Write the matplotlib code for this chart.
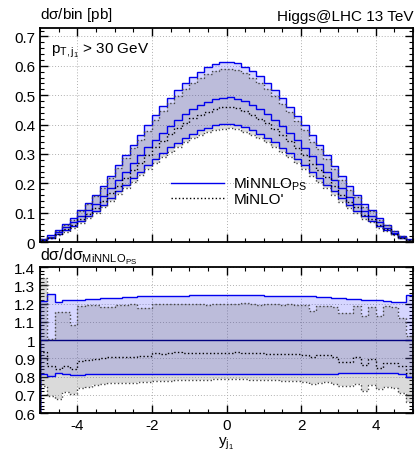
import numpy as np
import matplotlib.pyplot as plt
from matplotlib.ticker import MultipleLocator
from matplotlib.lines import Line2D

plt.rcParams['font.family'] = ['Liberation Sans', 'DejaVu Sans']
plt.rcParams['mathtext.fontset'] = 'custom'
plt.rcParams['mathtext.rm'] = 'Liberation Sans'
plt.rcParams['mathtext.it'] = 'Liberation Sans'
plt.rcParams['axes.unicode_minus'] = False

# bin edges in y_j1
edges = np.linspace(-5, 5, 51)

# MiNNLO_PS central value per bin [pb]
minnlo = [0.008, 0.018, 0.033, 0.050, 0.068, 0.090, 0.108, 0.130, 0.156, 0.184,
          0.212, 0.240, 0.268, 0.295, 0.322, 0.348, 0.372, 0.395, 0.415, 0.435,
          0.452, 0.466, 0.478, 0.487, 0.492,
          0.493, 0.488, 0.479, 0.467, 0.453, 0.436, 0.416, 0.394, 0.371, 0.347,
          0.321, 0.294, 0.267, 0.239, 0.211, 0.183, 0.155, 0.130, 0.107, 0.089,
          0.067, 0.049, 0.032, 0.018, 0.008]

# MiNNLO_PS scale band, ratio to central
minnlo_up = [1.212, 1.252, 1.208, 1.218, 1.219, 1.221, 1.224, 1.226, 1.229, 1.231,
             1.233, 1.235, 1.237, 1.239, 1.240, 1.241, 1.242, 1.243, 1.244, 1.244,
             1.245, 1.245, 1.246, 1.246, 1.246,
             1.246, 1.246, 1.246, 1.245, 1.245, 1.244, 1.243, 1.243, 1.242, 1.241,
             1.240, 1.239, 1.238, 1.236, 1.233, 1.229, 1.226, 1.223, 1.221, 1.219,
             1.218, 1.213, 1.210, 1.209, 1.247]
minnlo_dn = [0.814, 0.801, 0.817, 0.812, 0.811, 0.811, 0.812, 0.812, 0.813, 0.813,
             0.813, 0.814, 0.814, 0.814, 0.814, 0.815, 0.815, 0.815, 0.815, 0.815,
             0.815, 0.815, 0.815, 0.815, 0.815,
             0.815, 0.815, 0.815, 0.815, 0.815, 0.815, 0.815, 0.815, 0.815, 0.815,
             0.815, 0.815, 0.815, 0.816, 0.816, 0.817, 0.817, 0.817, 0.818, 0.818,
             0.818, 0.818, 0.817, 0.816, 0.800]

# MiNLO' central and band, ratio to MiNNLO_PS central
minlo_c = [0.934, 0.860, 0.840, 0.860, 0.840, 0.887, 0.890, 0.895, 0.900, 0.905,
           0.905, 0.910, 0.910, 0.915, 0.915, 0.928, 0.925, 0.928, 0.932, 0.930,
           0.931, 0.930, 0.929, 0.930, 0.931,
           0.930, 0.933, 0.931, 0.928, 0.927, 0.926, 0.924, 0.925, 0.926, 0.922,
           0.918, 0.908, 0.918, 0.920, 0.905, 0.882, 0.880, 0.905, 0.862, 0.895,
           0.845, 0.877, 0.875, 0.860, 0.820]
minlo_up = [1.340, 1.005, 1.155, 1.155, 1.082, 1.188, 1.192, 1.195, 1.183, 1.183,
            1.193, 1.195, 1.196, 1.178, 1.176, 1.198, 1.196, 1.200, 1.199, 1.197,
            1.200, 1.196, 1.195, 1.198, 1.197,
            1.196, 1.199, 1.202, 1.197, 1.195, 1.198, 1.196, 1.194, 1.196, 1.192,
            1.190, 1.162, 1.185, 1.188, 1.180, 1.150, 1.148, 1.185, 1.130, 1.180,
            1.132, 1.185, 1.180, 1.122, 1.020]
minlo_dn = [0.750, 0.695, 0.677, 0.713, 0.705, 0.737, 0.745, 0.752, 0.758, 0.762,
            0.764, 0.766, 0.766, 0.770, 0.772, 0.775, 0.776, 0.778, 0.779, 0.780,
            0.781, 0.782, 0.783, 0.784, 0.785,
            0.785, 0.786, 0.784, 0.783, 0.782, 0.781, 0.780, 0.778, 0.777, 0.775,
            0.772, 0.760, 0.766, 0.768, 0.760, 0.750, 0.748, 0.760, 0.722, 0.752,
            0.730, 0.742, 0.738, 0.708, 0.660]

minnlo = np.array(minnlo)
r_up, r_dn = np.array(minnlo_up), np.array(minnlo_dn)
m_c, m_up, m_dn = np.array(minlo_c), np.array(minlo_up), np.array(minlo_dn)

blue = '#0000ee'
bfill = (0.0, 0.0, 1.0, 0.16)
gfill = (0.45, 0.45, 0.45, 0.26)
fs = 11

fig = plt.figure(figsize=(4.16, 4.56), dpi=100)
ax1 = fig.add_axes([0.0962, 0.467, 0.8966, 0.469])
ax2 = fig.add_axes([0.0962, 0.092, 0.8966, 0.320])


def style(ax):
    ax.tick_params(which='both', direction='in', top=True, right=True, labelsize=fs)
    ax.tick_params(which='major', length=6, width=1)
    ax.tick_params(which='minor', length=3, width=0.8)
    ax.xaxis.set_major_locator(MultipleLocator(2))
    ax.xaxis.set_minor_locator(MultipleLocator(0.5))
    ax.grid(True, which='major', ls=(0, (1, 2)), color='#b0b0b0', lw=0.7)
    ax.set_axisbelow(True)
    for s in ax.spines.values():
        s.set_linewidth(1.3)
    ax.set_xlim(-5, 5)


# top panel
ax1.stairs(minnlo * r_up, edges, baseline=minnlo * r_dn, fill=True, color=bfill, lw=0)
ax1.stairs(minnlo * m_up, edges, baseline=minnlo * m_dn, fill=True, color=gfill, lw=0)
ax1.stairs(minnlo * r_up, edges, color=blue, lw=1.0)
ax1.stairs(minnlo * r_dn, edges, color=blue, lw=1.0)
ax1.stairs(minnlo, edges, color=blue, lw=1.0)
ax1.stairs(minnlo * m_up, edges, color='#444444', lw=1.0, ls=':')
ax1.stairs(minnlo * m_dn, edges, color='#444444', lw=1.0, ls=':')
ax1.stairs(minnlo * m_c, edges, color='black', lw=1.0, ls=':')
style(ax1)
ax1.set_ylim(0, 0.728)
ax1.yaxis.set_minor_locator(MultipleLocator(0.02))
ax1.set_yticks([0, 0.1, 0.2, 0.3, 0.4, 0.5, 0.6, 0.7],
               ['0', '0.1', '0.2', '0.3', '0.4', '0.5', '0.6', '0.7'])
ax1.tick_params(axis='x', labelbottom=False)
ax1.text(0.0, 1.025, r'd$\sigma$/bin [pb]', transform=ax1.transAxes, fontsize=fs,
         ha='left', va='bottom')
ax1.text(1.0, 1.025, 'Higgs@LHC 13 TeV', transform=ax1.transAxes, fontsize=fs,
         ha='right', va='bottom')
ax1.text(0.03, 0.94, r'p$_{\mathregular{T,j_1}}$ > 30 GeV', transform=ax1.transAxes,
         fontsize=fs, ha='left', va='top')
handles = [Line2D([], [], color=blue, lw=1.0),
           Line2D([], [], color='black', lw=1.0, ls=':')]
ax1.legend(handles, [r'MiNNLO$_{\mathregular{PS}}$', "MiNLO'"], loc='center left',
           bbox_to_anchor=(0.33, 0.24), frameon=False, fontsize=fs,
           handlelength=3.5, handletextpad=0.6, labelspacing=0.0, borderpad=0)

# ratio panel
ax2.stairs(r_up, edges, baseline=r_dn, fill=True, color=bfill, lw=0)
ax2.stairs(m_up, edges, baseline=m_dn, fill=True, color=gfill, lw=0)
ax2.stairs(r_up, edges, color=blue, lw=1.0)
ax2.stairs(r_dn, edges, color=blue, lw=1.0)
ax2.stairs(minnlo / minnlo, edges, color='#000080', lw=1.0)
ax2.stairs(m_up, edges, color='#444444', lw=1.0, ls=':')
ax2.stairs(m_dn, edges, color='#444444', lw=1.0, ls=':')
ax2.stairs(m_c, edges, color='black', lw=1.0, ls=':')
style(ax2)
ax2.set_ylim(0.6, 1.4)
ax2.yaxis.set_minor_locator(MultipleLocator(0.02))
ax2.set_yticks([0.6, 0.7, 0.8, 0.9, 1.0, 1.1, 1.2, 1.3, 1.4],
               ['0.6', '0.7', '0.8', '0.9', '1', '1.1', '1.2', '1.3', '1.4'])
ax2.text(0.0, 1.01, r'd$\sigma$/d$\sigma_{\mathregular{MiNNLO_{PS}}}$',
         transform=ax2.transAxes, fontsize=fs + 0.5, ha='left', va='bottom')
ax2.set_xlabel(r'y$_{\mathregular{j_1}}$', fontsize=fs, labelpad=2)

fig.savefig('out.png', dpi=100)
